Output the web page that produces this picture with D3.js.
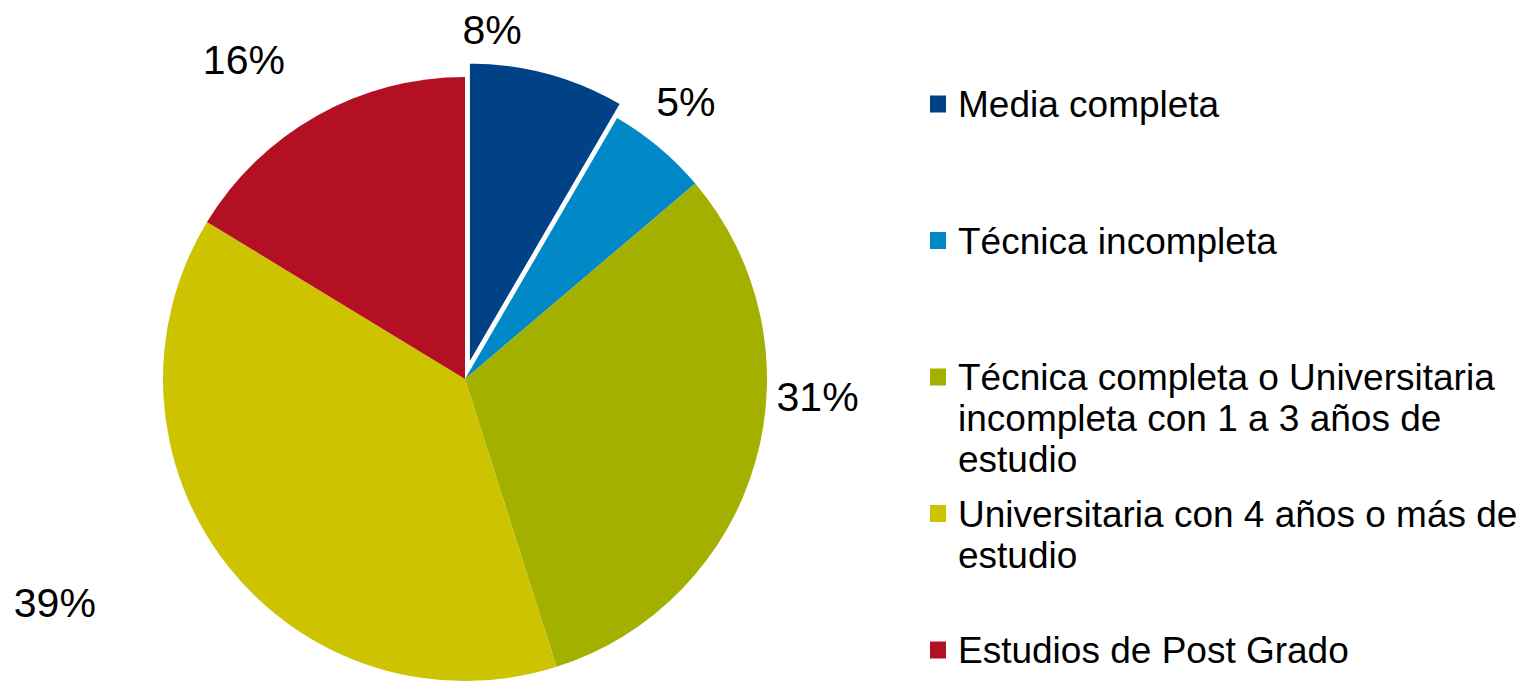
<!DOCTYPE html>
<html>
<head>
<meta charset="utf-8">
<script src="https://cdn.jsdelivr.net/npm/d3@7"></script>
<style>
  html, body { margin: 0; padding: 0; background: #fff; }
  svg { display: block; font-family: "Liberation Sans", Arial, sans-serif; }
</style>
</head>
<body>
<svg id="chart" width="1539" height="681"></svg>
<script>
// ---- data ----
const categories = [
  "Media completa",
  "Técnica incompleta",
  "Técnica completa o Universitaria incompleta con 1 a 3 años de estudio",
  "Universitaria con 4 años o más de estudio",
  "Estudios de Post Grado"
];
const values = [8.4, 5.4, 31.3, 38.6, 16.3];
const labels = ["8%", "5%", "31%", "39%", "16%"];
const colors = ["#004285", "#0088C7", "#A3B000", "#CDC300", "#B31123"];
const exploded = [true, false, false, false, false];

// ---- layout ----
const W = 1539, H = 681;
const cx = 465, cy = 379, R = 302;
const explodeDist = 15;
// label placement: angle offset from slice mid-angle (deg) and distance from centre
const labelAngleDelta = [-10.7, -1.5, -13.2, 9.6, -5.3];
const labelRadius = [351, 355, 353, 467, 389];

const svg = d3.select("#chart");
const g = svg.append("g").attr("transform", `translate(${cx},${cy})`);

const data = categories.map((c, i) => ({ name: c, value: values[i], label: labels[i], color: colors[i], exploded: exploded[i], i }));

const pie = d3.pie().sort(null).value(d => d.value).startAngle(0).endAngle(2 * Math.PI);
const arc = d3.arc().innerRadius(0).outerRadius(R);
const arcs = pie(data);

g.selectAll("path.slice")
  .data(arcs)
  .join("path")
  .attr("class", "slice")
  .attr("d", arc)
  .attr("fill", d => d.data.color)
  .attr("stroke", d => d.data.exploded ? "#fff" : "none")
  .attr("stroke-width", 2)
  .attr("transform", d => {
    if (!d.data.exploded) return null;
    const a = (d.startAngle + d.endAngle) / 2;
    return `translate(${explodeDist * Math.sin(a)},${-explodeDist * Math.cos(a)})`;
  });

g.selectAll("text.lbl")
  .data(arcs)
  .join("text")
  .attr("class", "lbl")
  .attr("x", d => {
    const a = (d.startAngle + d.endAngle) / 2 + labelAngleDelta[d.data.i] * Math.PI / 180;
    return labelRadius[d.data.i] * Math.sin(a);
  })
  .attr("y", d => {
    const a = (d.startAngle + d.endAngle) / 2 + labelAngleDelta[d.data.i] * Math.PI / 180;
    return -labelRadius[d.data.i] * Math.cos(a);
  })
  .attr("dy", "0.36em")
  .attr("text-anchor", "middle")
  .attr("font-size", 41)
  .attr("fill", "#000")
  .text(d => d.data.label);

// ---- legend ----
const legendX = 930, textX = 958, legendTop = 104, legendStep = 136.5;
const fontSize = 37, lineH = 41, maxW = 575;
const legend = svg.append("g");

data.forEach((d, i) => {
  const yc = legendTop + i * legendStep;
  legend.append("rect")
    .attr("x", legendX).attr("y", yc - 8.5)
    .attr("width", 16).attr("height", 17)
    .attr("fill", d.color);
  const t = legend.append("text")
    .attr("x", textX).attr("y", yc)
    .attr("font-size", fontSize)
    .attr("fill", "#000");
  // word wrap
  const words = d.name.split(" ");
  let line = [];
  let lineNo = 0;
  let tspan = t.append("tspan").attr("x", textX).attr("dy", "0.36em");
  words.forEach(w => {
    line.push(w);
    tspan.text(line.join(" "));
    if (tspan.node().getComputedTextLength() > maxW && line.length > 1) {
      line.pop();
      tspan.text(line.join(" "));
      line = [w];
      lineNo++;
      tspan = t.append("tspan").attr("x", textX).attr("dy", lineH).text(w);
    }
  });
});
</script>
</body>
</html>
